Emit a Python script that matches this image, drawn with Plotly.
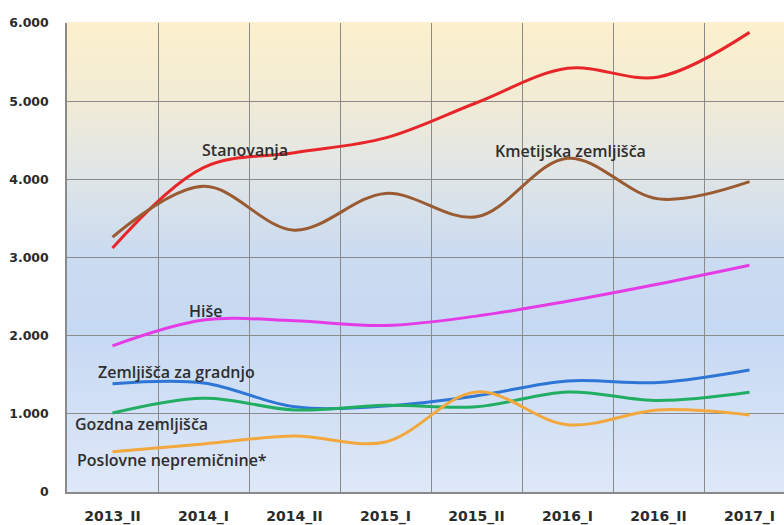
import plotly.graph_objects as go

# Quarters / half-years on the x axis
periods = ["2013_II", "2014_I", "2014_II", "2015_I", "2015_II", "2016_I", "2016_II", "2017_I"]

# Series values (number of transactions)
stanovanja = [3120, 4150, 4340, 4530, 4980, 5420, 5310, 5880]
kmetijska = [3260, 3910, 3350, 3820, 3520, 4270, 3750, 3970]
hise = [1870, 2200, 2190, 2130, 2250, 2440, 2660, 2900]
gradnja = [1385, 1395, 1090, 1100, 1230, 1420, 1400, 1560]
gozdna = [1010, 1200, 1050, 1110, 1090, 1280, 1170, 1275]
poslovne = [515, 615, 715, 640, 1280, 860, 1050, 985]

y_ticks = [0, 1000, 2000, 3000, 4000, 5000, 6000]
y_tick_text = ["0", "1.000", "2.000", "3.000", "4.000", "5.000", "6.000"]

series = [
    ("Stanovanja", stanovanja, "#E8262A"),
    ("Kmetijska zemljišča", kmetijska, "#9A5B33"),
    ("Hiše", hise, "#E53BE6"),
    ("Zemljišča za gradnjo", gradnja, "#2E76D6"),
    ("Gozdna zemljišča", gozdna, "#22AE62"),
    ("Poslovne nepremičnine*", poslovne, "#F2A83C"),
]

# Label anchor positions (category index, value)
label_pos = {
    "Stanovanja": (1.46, 4375),
    "Kmetijska zemljišča": (5.03, 4365),
    "Hiše": (1.03, 2315),
    "Zemljišča za gradnjo": (0.70, 1535),
    "Gozdna zemljišča": (0.32, 870),
    "Poslovne nepremičnine*": (0.65, 410),
}

x_idx = list(range(len(periods)))

fig = go.Figure()
for name, vals, color in series:
    fig.add_trace(go.Scatter(
        x=x_idx, y=vals, mode="lines", name=name,
        line=dict(color=color, width=3, shape="spline", smoothing=1.0),
        hoverinfo="name+y",
    ))

# Plot background: vertical gradient from warm yellow (top) to light blue (bottom)
stops = [
    (1.00, (252, 240, 205)),
    (0.85, (243, 236, 212)),
    (0.68, (224, 229, 230)),
    (0.52, (204, 220, 240)),
    (0.35, (198, 217, 243)),
    (0.00, (222, 232, 247)),
]


def color_at(t):
    for (t0, c0), (t1, c1) in zip(stops, stops[1:]):
        if t1 <= t <= t0:
            f = (t0 - t) / (t0 - t1)
            return "rgb(%d,%d,%d)" % tuple(round(a + (b - a) * f) for a, b in zip(c0, c1))
    return "rgb(%d,%d,%d)" % stops[-1][1]


n_strips = 80
for i in range(n_strips):
    y0 = i / n_strips
    y1 = (i + 1) / n_strips
    fig.add_shape(
        type="rect", xref="x domain", yref="y domain",
        x0=0, x1=1, y0=y0, y1=y1 + 0.002,
        fillcolor=color_at((y0 + y1) / 2), line=dict(width=0), layer="below",
    )

label_font = dict(family="Open Sans", size=16, color="#2e2e2e", weight=600)
for name, (lx, ly) in label_pos.items():
    fig.add_annotation(
        x=lx, y=ly, xref="x", yref="y", text=name, showarrow=False,
        font=label_font, xanchor="center", yanchor="middle",
    )

grid_color = "#8a8a8a"
fig.update_layout(
    width=784, height=525,
    margin=dict(l=67, r=0, t=23, b=33),
    paper_bgcolor="white",
    plot_bgcolor="rgba(0,0,0,0)",
    showlegend=False,
    xaxis=dict(
        range=[-0.5, -0.5 + 717 / 91],
        tickvals=x_idx, ticktext=periods,
        showgrid=False, zeroline=False, automargin=False,
        showline=True, linecolor=grid_color, linewidth=1.5,
        ticks="", ticklabelstandoff=10,
        tickfont=dict(family="DejaVu Sans", size=14, color="#2b2b2b", weight="bold"),
        minor=dict(tickvals=[i + 0.5 for i in range(len(periods) - 1)],
                   showgrid=True, gridcolor=grid_color, gridwidth=1.2, ticks=""),
    ),
    yaxis=dict(
        range=[0, 6000],
        tickvals=y_ticks, ticktext=y_tick_text,
        showgrid=True, gridcolor=grid_color, gridwidth=1.2,
        zeroline=False, automargin=False,
        showline=True, linecolor=grid_color, linewidth=1.5,
        ticks="", ticklabelstandoff=14,
        tickfont=dict(family="DejaVu Sans", size=12.5, color="#2b2b2b", weight="bold"),
    ),
)

fig.write_html("out.html")
